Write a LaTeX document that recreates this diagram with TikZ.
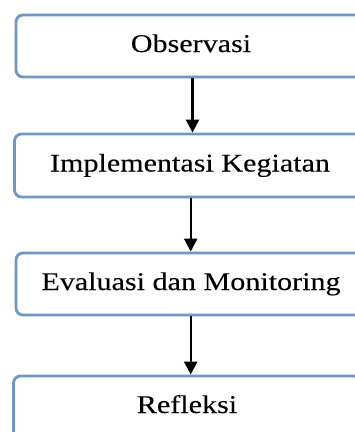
\documentclass[tikz,border=0pt]{standalone}
\usepackage{fontspec}
\setmainfont[FakeStretch=1.18,FakeBold=0.15]{Liberation Serif}
\usetikzlibrary{arrows.meta}
\definecolor{boxblue}{HTML}{6F98C6}
\tikzset{
  stepbox/.style={draw=boxblue, line width=2.8pt, rounded corners=7pt, inner sep=0pt,
    text height=17pt, text depth=5pt, font=\fontsize{25.5pt}{28pt}\selectfont},
  arr/.style={draw=black, line width=2.3pt, -{Triangle[width=13pt,length=13pt]}}
}
\begin{document}
\begin{tikzpicture}[x=1pt,y=1pt]
\useasboundingbox (0,0) rectangle (355,-432);
\clip (0,0) rectangle (355,-432);
\node[stepbox, minimum width=350pt, minimum height=62pt] (b1) at (191,-46) {Observasi};
\node[stepbox, minimum width=351pt, minimum height=63pt] (b2) at (190,-165.5) {Implementasi Kegiatan};
\node[stepbox, minimum width=350pt, minimum height=62pt] (b3) at (191,-284) {Evaluasi dan Monitoring};
\node[stepbox, minimum width=347pt, minimum height=62pt] (b4) at (187,-407) {Refleksi};
\draw[arr] (192.5,0 |- b1.south) -- (192.5,0 |- b2.north);
\draw[arr] (190.7,0 |- b2.south) -- (190.7,0 |- b3.north);
\draw[arr] (190.7,0 |- b3.south) -- (190.7,0 |- b4.north);
\end{tikzpicture}
\end{document}
